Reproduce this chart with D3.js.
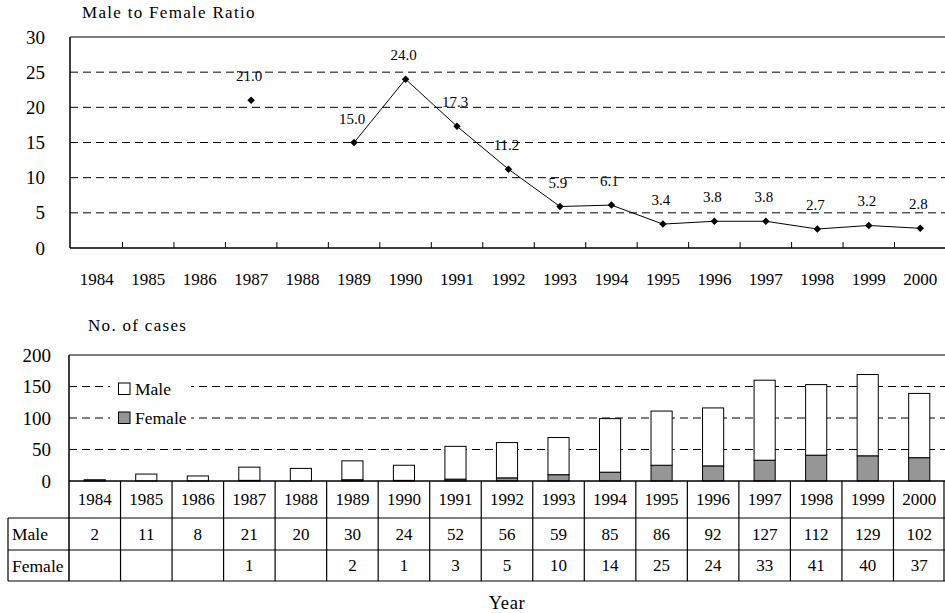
<!DOCTYPE html>
<html>
<head>
<meta charset="utf-8">
<script src="https://cdn.jsdelivr.net/npm/d3@7"></script>
<style>
  html, body { margin: 0; padding: 0; background: #fff; }
  svg { display: block; }
</style>
</head>
<body>
<svg id="chart" width="945" height="613" font-family="'Liberation Serif', 'Times New Roman', Times, serif"></svg>
<script>
// ---- data ----
const years = ["1984","1985","1986","1987","1988","1989","1990","1991","1992","1993","1994","1995","1996","1997","1998","1999","2000"];
const ratio = [null, null, null, 21.0, null, 15.0, 24.0, 17.3, 11.2, 5.9, 6.1, 3.4, 3.8, 3.8, 2.7, 3.2, 2.8];
const male = [2, 11, 8, 21, 20, 30, 24, 52, 56, 59, 85, 86, 92, 127, 112, 129, 102];
const female = [null, null, null, 1, null, 2, 1, 3, 5, 10, 14, 25, 24, 33, 41, 40, 37];
const ratioTicks = [0, 5, 10, 15, 20, 25, 30];
const caseTicks = [0, 50, 100, 150, 200];
const seriesNames = ["Male", "Female"];

const FONT = "'Liberation Serif', 'Times New Roman', Times, serif";
const svg = d3.select("#chart");
svg.append("rect").attr("width", 945).attr("height", 613).attr("fill", "#fff");

// ================= TOP CHART =================
const topM = {left: 70, right: 945, top: 37, bottom: 248};
const x1 = d3.scaleBand().domain(years).range([71, 946]).padding(0);
const y1 = d3.scaleLinear().domain([0, 30]).range([topM.bottom, topM.top]);
const g1 = svg.append("g");

// gridlines
g1.selectAll("line.grid").data(ratioTicks.filter(t => t > 0 && t < 30)).join("line")
  .attr("x1", topM.left).attr("x2", topM.right)
  .attr("y1", d => y1(d)).attr("y2", d => y1(d))
  .attr("stroke", "#000").attr("stroke-width", 1).attr("stroke-dasharray", "8,5");
g1.append("line").attr("x1", topM.left).attr("x2", topM.right)
  .attr("y1", y1(30)).attr("y2", y1(30)).attr("stroke", "#000").attr("stroke-width", 1.2);

// axes lines
g1.append("line").attr("x1", topM.left).attr("x2", topM.left).attr("y1", y1(30)).attr("y2", y1(0))
  .attr("stroke", "#000").attr("stroke-width", 1.5);
g1.append("line").attr("x1", topM.left).attr("x2", topM.right).attr("y1", y1(0)).attr("y2", y1(0))
  .attr("stroke", "#000").attr("stroke-width", 1.5);
// tick marks between categories (pointing up)
g1.selectAll("line.xt").data(years.slice(1)).join("line")
  .attr("x1", d => x1(d)).attr("x2", d => x1(d))
  .attr("y1", y1(0)).attr("y2", y1(0) - 6)
  .attr("stroke", "#000").attr("stroke-width", 1);

// y tick labels
g1.selectAll("text.yt").data(ratioTicks).join("text")
  .attr("font-family", FONT)
  .attr("x", 45).attr("y", d => y1(d)).attr("dy", "0.35em")
  .attr("text-anchor", "end").attr("font-size", 19).text(d => d);
// x labels
g1.selectAll("text.xl").data(years).join("text")
  .attr("font-family", FONT)
  .attr("x", d => x1(d) + x1.bandwidth() / 2).attr("y", 285)
  .attr("text-anchor", "middle").attr("font-size", 17).text(d => d);
// title
g1.append("text").attr("font-family", FONT).attr("x", 82).attr("y", 18).attr("font-size", 17)
  .attr("letter-spacing", 1.3).text("Male to Female Ratio");

// line
const rdata = years.map((y, i) => ({year: y, r: ratio[i]}));
const line = d3.line().defined(d => d.r != null)
  .x(d => x1(d.year) + x1.bandwidth() / 2).y(d => y1(d.r));
g1.append("path").datum(rdata).attr("d", line)
  .attr("fill", "none").attr("stroke", "#000").attr("stroke-width", 1);
g1.selectAll("path.pt").data(rdata.filter(d => d.r != null)).join("path")
  .attr("transform", d => `translate(${x1(d.year) + x1.bandwidth() / 2},${y1(d.r)}) rotate(45)`)
  .attr("d", d3.symbol(d3.symbolSquare, 28)).attr("fill", "#000");
g1.selectAll("text.lbl").data(rdata.filter(d => d.r != null)).join("text")
  .attr("font-family", FONT)
  .attr("x", d => x1(d.year) + x1.bandwidth() / 2 - 2).attr("y", d => y1(d.r) - 19)
  .attr("text-anchor", "middle").attr("font-size", 15).text(d => d.r.toFixed(1));

// ================= BOTTOM CHART =================
const bot = {left: 69, right: 945, top: 355, bottom: 481};
const rowH = [481, 518, 550, 581];
const tableLeft = 8;
const x2 = d3.scaleBand().domain(years).range([bot.left, bot.right]).paddingInner(0.59).paddingOuter(0.295);
const x2c = d3.scaleBand().domain(years).range([bot.left, bot.right]).padding(0);
const y2 = d3.scaleLinear().domain([0, 200]).range([bot.bottom, bot.top]);
const g2 = svg.append("g");

g2.selectAll("line.grid").data(caseTicks.filter(t => t > 0 && t < 200)).join("line")
  .attr("x1", bot.left).attr("x2", bot.right)
  .attr("y1", d => y2(d)).attr("y2", d => y2(d))
  .attr("stroke", "#000").attr("stroke-width", 1).attr("stroke-dasharray", "8,5");
g2.append("line").attr("x1", bot.left).attr("x2", bot.right)
  .attr("y1", y2(200)).attr("y2", y2(200)).attr("stroke", "#000").attr("stroke-width", 1.2);

// stacked bars
const bdata = years.map((y, i) => ({year: y, m: male[i], f: female[i] || 0}));
g2.selectAll("rect.f").data(bdata.filter(d => d.f > 0)).join("rect")
  .attr("x", d => x2(d.year)).attr("width", x2.bandwidth())
  .attr("y", d => y2(d.f)).attr("height", d => y2(0) - y2(d.f))
  .attr("fill", "#969696").attr("stroke", "#000").attr("stroke-width", 1);
g2.selectAll("rect.m").data(bdata).join("rect")
  .attr("x", d => x2(d.year)).attr("width", x2.bandwidth())
  .attr("y", d => y2(d.f + d.m)).attr("height", d => y2(d.f) - y2(d.f + d.m))
  .attr("fill", "#fff").attr("stroke", "#000").attr("stroke-width", 1);

// legend
const lg = g2.append("g");
lg.append("rect").attr("x", 110).attr("y", 376).attr("width", 81).attr("height", 54).attr("fill", "#fff");
const legendFill = ["#fff", "#969696"];
const legendY = [389, 418];
seriesNames.forEach((s, i) => {
  lg.append("rect").attr("x", 118.5).attr("y", legendY[i] - 6).attr("width", 11.5).attr("height", 11.5)
    .attr("fill", legendFill[i]).attr("stroke", "#000").attr("stroke-width", 1);
  lg.append("text").attr("font-family", FONT).attr("x", 135).attr("y", legendY[i]).attr("dy", "0.35em")
    .attr("font-size", 17.5).text(s);
});

// axis lines
g2.append("line").attr("x1", bot.left).attr("x2", bot.left).attr("y1", y2(200)).attr("y2", rowH[3])
  .attr("stroke", "#000").attr("stroke-width", 1.5);
g2.append("line").attr("x1", bot.left).attr("x2", bot.right).attr("y1", rowH[0]).attr("y2", rowH[0])
  .attr("stroke", "#000").attr("stroke-width", 1.5);

// y tick labels
g2.selectAll("text.yt").data(caseTicks).join("text")
  .attr("font-family", FONT)
  .attr("x", 51).attr("y", d => y2(d)).attr("dy", "0.35em")
  .attr("text-anchor", "end").attr("font-size", 19).text(d => d);
g2.append("text").attr("font-family", FONT).attr("x", 88).attr("y", 331).attr("font-size", 17)
  .attr("letter-spacing", 1.3).text("No. of cases");

// table
const tg = g2.append("g");
[1, 2, 3].forEach(k => {
  tg.append("line").attr("x1", tableLeft).attr("x2", bot.right).attr("y1", rowH[k]).attr("y2", rowH[k])
    .attr("stroke", "#000").attr("stroke-width", 1.2);
});
tg.append("line").attr("x1", tableLeft).attr("x2", tableLeft).attr("y1", rowH[1]).attr("y2", rowH[3])
  .attr("stroke", "#000").attr("stroke-width", 1.2);
tg.selectAll("line.col").data(years).join("line")
  .attr("x1", d => Math.min(x2c(d) + x2c.bandwidth(), 944)).attr("x2", d => Math.min(x2c(d) + x2c.bandwidth(), 944))
  .attr("y1", rowH[0]).attr("y2", rowH[3])
  .attr("stroke", "#000").attr("stroke-width", 1.2);
const rowC = [0, 1, 2].map(k => (rowH[k] + rowH[k + 1]) / 2);
tg.selectAll("text.yr").data(years).join("text")
  .attr("font-family", FONT)
  .attr("x", d => x2c(d) + x2c.bandwidth() / 2).attr("y", rowC[0]).attr("dy", "0.35em")
  .attr("text-anchor", "middle").attr("font-size", 17).text(d => d);
tg.selectAll("text.mv").data(years.map((y, i) => ({y, v: male[i]}))).join("text")
  .attr("font-family", FONT)
  .attr("x", d => x2c(d.y) + x2c.bandwidth() / 2).attr("y", rowC[1]).attr("dy", "0.35em")
  .attr("text-anchor", "middle").attr("font-size", 17).text(d => d.v);
tg.selectAll("text.fv").data(years.map((y, i) => ({y, v: female[i]})).filter(d => d.v != null)).join("text")
  .attr("font-family", FONT)
  .attr("x", d => x2c(d.y) + x2c.bandwidth() / 2).attr("y", rowC[2]).attr("dy", "0.35em")
  .attr("text-anchor", "middle").attr("font-size", 17).text(d => d.v);
seriesNames.forEach((s, i) => {
  tg.append("text").attr("font-family", FONT).attr("x", 12).attr("y", rowC[i + 1]).attr("dy", "0.35em")
    .attr("font-size", 17.5).text(s);
});

// x axis title
svg.append("text").attr("font-family", FONT).attr("x", 507).attr("y", 603).attr("dy", "0.35em")
  .attr("text-anchor", "middle").attr("font-size", 18.5).attr("letter-spacing", 0.6).text("Year");
</script>
</body>
</html>
